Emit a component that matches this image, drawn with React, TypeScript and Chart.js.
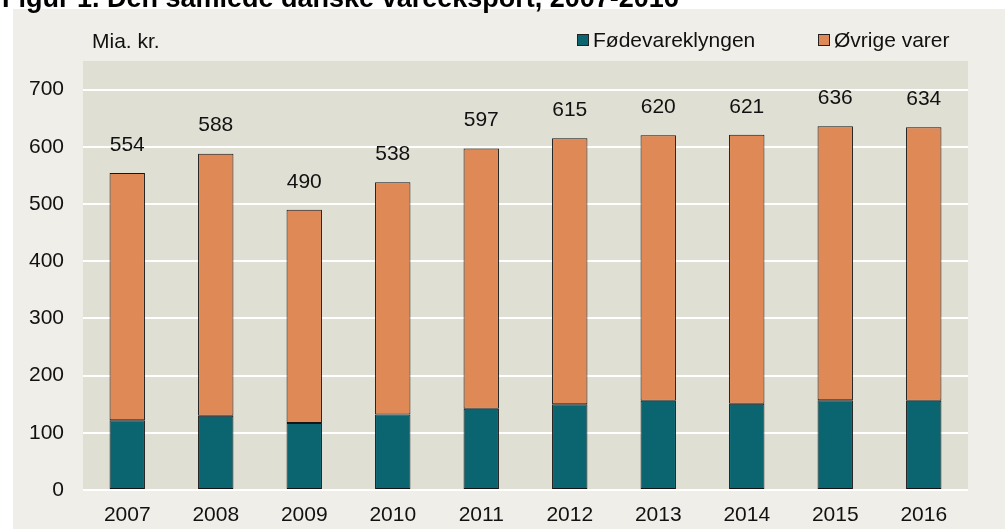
import React, { useEffect, useRef } from "react";
import { Chart, registerables } from "chart.js";

Chart.register(...registerables);

const title = "Figur 1. Den samlede danske vareeksport, 2007-2016";
const unitLabel = "Mia. kr.";
const years = ["2007", "2008", "2009", "2010", "2011", "2012", "2013", "2014", "2015", "2016"];
const foedevareklyngen = [122, 130, 117, 132, 142, 150, 156, 151, 157, 156];
const oevrigeVarer = [432, 458, 373, 406, 455, 465, 464, 470, 479, 478];
const totals = [554, 588, 490, 538, 597, 615, 620, 621, 636, 634];
const seriesNames = ["Fødevareklyngen", "Øvrige varer"];

const TEAL = "#0a6570";
const ORANGE = "#df8957";
const PANEL = "#efeee8";
const PLOT_BG = "#e0dfd4";
const FONT = "'Liberation Sans', Arial, sans-serif";

const decorPlugin = {
  id: "decor",
  beforeDraw(chart: any) {
    const { ctx, chartArea } = chart;
    ctx.save();
    ctx.fillStyle = "#ffffff";
    ctx.fillRect(0, 0, chart.width, chart.height);
    ctx.fillStyle = PANEL;
    ctx.fillRect(13, 9, chart.width - 13, chart.height - 9);
    ctx.fillStyle = PLOT_BG;
    ctx.fillRect(chartArea.left, chartArea.top, chartArea.right - chartArea.left, chartArea.bottom - chartArea.top);
    // title (cut off at top)
    ctx.fillStyle = "#000";
    ctx.font = `bold 27px ${FONT}`;
    ctx.textBaseline = "alphabetic";
    ctx.textAlign = "left";
    ctx.fillText(title, 2, 7);
    // unit label
    ctx.fillStyle = "#111";
    ctx.font = `21px ${FONT}`;
    ctx.textBaseline = "middle";
    ctx.fillText(unitLabel, 92, 42);
    // legend
    const items = [
      { x: 577, color: TEAL, label: chart.data.datasets[0].label },
      { x: 818, color: ORANGE, label: chart.data.datasets[1].label },
    ];
    items.forEach((it) => {
      ctx.fillStyle = it.color;
      ctx.fillRect(it.x, 34, 12, 12);
      ctx.strokeStyle = "#222";
      ctx.lineWidth = 1;
      ctx.strokeRect(it.x + 0.5, 34.5, 11, 11);
      ctx.fillStyle = "#111";
      ctx.fillText(it.label, it.x + 16, 41);
    });
    ctx.restore();
  },
  afterDatasetsDraw(chart: any) {
    const { ctx } = chart;
    const y = chart.scales.y;
    const x = chart.scales.x;
    ctx.save();
    ctx.fillStyle = "#111";
    ctx.font = `21px ${FONT}`;
    ctx.textAlign = "center";
    ctx.textBaseline = "middle";
    totals.forEach((t, i) => {
      ctx.fillText(String(t), x.getPixelForValue(i), y.getPixelForValue(t) - 28);
    });
    ctx.restore();
  },
};

export default function App() {
  const ref = useRef<HTMLCanvasElement>(null);
  useEffect(() => {
    if (!ref.current) return;
    const chart = new Chart(ref.current, {
      type: "bar",
      data: {
        labels: years,
        datasets: [
          {
            label: seriesNames[0],
            data: foedevareklyngen,
            backgroundColor: TEAL,
            borderColor: "#151515",
            borderWidth: 1,
            borderSkipped: false,
          },
          {
            label: seriesNames[1],
            data: oevrigeVarer,
            backgroundColor: ORANGE,
            borderColor: "#151515",
            borderWidth: 1,
            borderSkipped: false,
          },
        ],
      },
      options: {
        responsive: false,
        animation: false,
        devicePixelRatio: 1,
        layout: { padding: { top: 61, right: 37, left: 0, bottom: 0 } },
        datasets: { bar: { categoryPercentage: 1, barPercentage: 0.4 } },
        plugins: {
          legend: { display: false },
          title: { display: false },
          tooltip: { enabled: false },
        },
        scales: {
          x: {
            stacked: true,
            grid: { display: false, drawTicks: false },
            border: { display: false },
            ticks: { color: "#111", font: { size: 21, family: FONT }, padding: 13, maxRotation: 0 },
            afterFit: (s: any) => {
              s.height = 39;
            },
          },
          y: {
            stacked: true,
            min: 0,
            max: 750,
            grid: { color: "#ffffff", lineWidth: 2, drawTicks: false },
            border: { display: false },
            ticks: {
              stepSize: 100,
              includeBounds: false,
              color: "#111",
              font: { size: 21, family: FONT },
              padding: 19,
            },
            afterFit: (s: any) => {
              s.width = 83;
            },
          },
        },
      },
      plugins: [decorPlugin],
    });
    return () => chart.destroy();
  }, []);
  return (
    <div style={{ position: "absolute", left: 0, top: 0, width: 1005, height: 529, overflow: "hidden" }}>
      <canvas ref={ref} width={1005} height={529} style={{ display: "block" }} />
    </div>
  );
}
